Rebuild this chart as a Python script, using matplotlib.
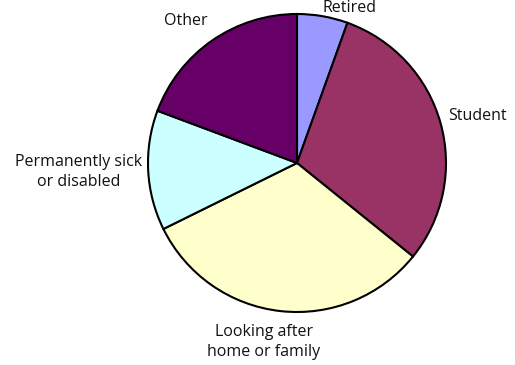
import matplotlib
matplotlib.use("Agg")
import matplotlib.pyplot as plt

# economic inactivity breakdown (percent)
labels = ["Retired", "Student", "Looking after\nhome or family",
          "Permanently sick\nor disabled", "Other"]
values = [5.5, 30.3, 31.9, 13.0, 19.3]
colors = ["#9999FF", "#993366", "#FFFFCC", "#CCFFFF", "#660066"]

W, H = 515, 365
fig = plt.figure(figsize=(W / 100, H / 100), dpi=100)
ax = fig.add_axes([0, 0, 1, 1])

# pie in pixel coords (y flipped)
cx, cy, r = 297, H - 163, 149
ax.pie(values, colors=colors, startangle=90, counterclock=False,
       center=(cx, cy), radius=r,
       wedgeprops=dict(edgecolor="black", linewidth=1.5))
ax.set_xlim(0, W)
ax.set_ylim(0, H)
ax.set_aspect("equal")
ax.axis("off")

# label positions in pixels (x, y from top)
pos = [(350, 8), (477, 116), (264, 342), (79, 172), (186, 21)]
for lab, (x, y) in zip(labels, pos):
    ax.text(x, H - y, lab, ha="center", va="center", fontsize=11.5,
            color="#111111", linespacing=1.4, family="Open Sans")

fig.savefig("out.png", dpi=100)
